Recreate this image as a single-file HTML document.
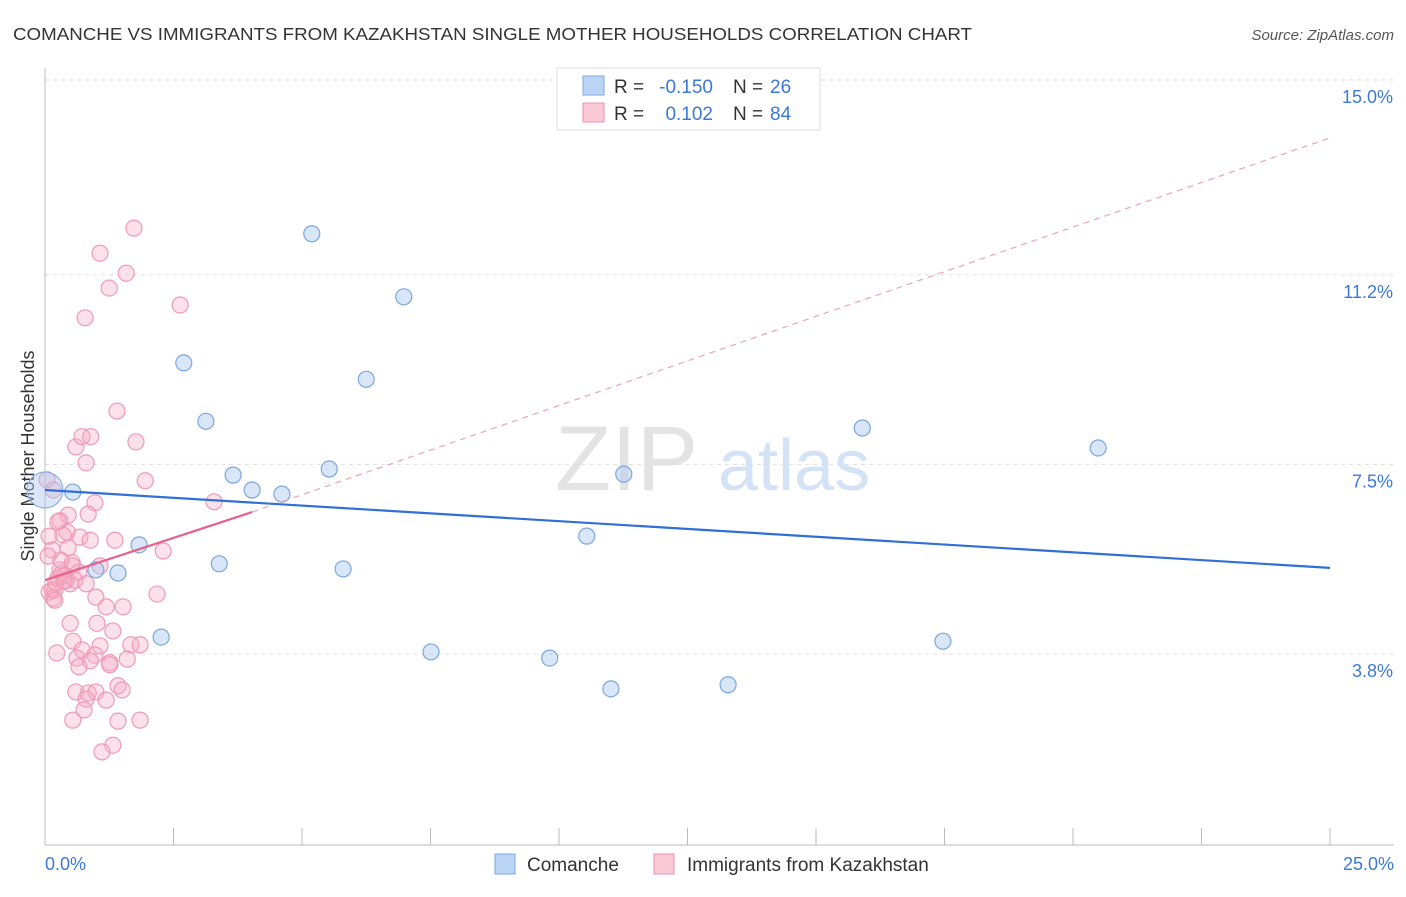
<!DOCTYPE html>
<html><head><meta charset="utf-8"><style>
body{margin:0;background:#fff;font-family:"Liberation Sans",sans-serif;}
svg text{font-family:"Liberation Sans",sans-serif;}
</style></head><body>
<svg id="chart" width="1406" height="892" xmlns="http://www.w3.org/2000/svg">
<text x="13" y="40" font-size="17.5" fill="#333" textLength="959" lengthAdjust="spacingAndGlyphs">COMANCHE VS IMMIGRANTS FROM KAZAKHSTAN SINGLE MOTHER HOUSEHOLDS CORRELATION CHART</text>
<text x="1394" y="40" font-size="15" fill="#555" text-anchor="end" font-style="italic">Source: ZipAtlas.com</text>
<g id="grid"></g>
<g id="axes"></g>
<text x="555" y="490" font-size="92" fill="#ddd" font-family="Liberation Serif" opacity="0.8">ZIP</text>
<text x="718" y="490" font-size="72" fill="#c9dcf2" opacity="0.8">atlas</text>
<text transform="translate(34,456) rotate(-90)" font-size="18" fill="#333" text-anchor="middle">Single Mother Households</text>
<g id="trends"></g>
<g id="points"></g>
<g>
<rect x="557" y="68" width="263" height="62" fill="#fff" stroke="#ddd"/>
<rect x="583" y="76" width="21" height="19" fill="#bcd4f4" stroke="#7aa7e0"/>
<rect x="583" y="103" width="21" height="19" fill="#f9c9d7" stroke="#ee8fae"/>
<text x="614" y="93" font-size="19" fill="#333">R =</text>
<text x="713" y="93" font-size="19" fill="#3b78d8" text-anchor="end">-0.150</text>
<text x="733" y="93" font-size="19" fill="#333">N =</text>
<text x="770" y="93" font-size="19" fill="#3b78d8">26</text>
<text x="614" y="120" font-size="19" fill="#333">R =</text>
<text x="713" y="120" font-size="19" fill="#3b78d8" text-anchor="end">0.102</text>
<text x="733" y="120" font-size="19" fill="#333">N =</text>
<text x="770" y="120" font-size="19" fill="#3b78d8">84</text>
</g>
<g>
<rect x="495" y="854" width="20" height="20" fill="#bcd4f4" stroke="#7aa7e0"/>
<text x="527" y="871" font-size="19" fill="#333">Comanche</text>
<rect x="654" y="854" width="20" height="20" fill="#f9c9d7" stroke="#ee8fae"/>
<text x="687" y="871" font-size="19" fill="#333">Immigrants from Kazakhstan</text>
</g>
</svg>
<script>
const yTicks=[3.8,7.5,11.2,15.0];
const yTickLabels=["3.8%","7.5%","11.2%","15.0%"];
const xEndLabels=["0.0%","25.0%"];
const comancheX=[5.19,6.98,2.70,6.25,3.13,15.90,20.49,5.53,3.66,11.26,4.03,4.61,0.54,1.83,10.54,3.39,0.99,1.42,5.80,2.26,7.51,9.82,17.47,11.01,13.29];
const comancheY=[12.00,10.77,9.48,9.16,8.34,8.21,7.82,7.41,7.29,7.31,7.00,6.92,6.96,5.93,6.10,5.56,5.44,5.38,5.46,4.13,3.84,3.72,4.05,3.12,3.20];
const bigPointX=[0.0];
const bigPointY=[7.00];
const kazX=[1.73,1.07,1.58,1.25,2.63,0.78,1.40,1.77,0.60,0.72,0.89,0.80,1.95,3.29,0.97,0.45,0.84,0.29,0.43,0.68,0.35,1.36,0.14,0.06,2.30,1.07,0.53,0.29,0.66,0.25,0.41,0.49,0.14,0.08,0.19,0.16,2.18,0.99,1.52,1.19,0.49,1.01,1.32,0.54,0.23,1.07,1.67,1.85,0.72,0.97,0.62,1.60,0.88,1.26,0.66,1.26,1.42,0.60,0.84,0.99,1.50,0.80,1.19,0.76,0.54,1.42,1.85,1.32,1.11,0.04,0.16,0.25,0.08,0.21,0.39,0.33,0.53,0.58,0.37,0.80,0.19,0.45,0.31,0.88];
const kazY=[12.11,11.62,11.23,10.94,10.61,10.36,8.54,7.94,7.84,8.04,8.04,7.53,7.18,6.77,6.75,6.51,6.53,6.40,6.18,6.08,6.12,6.02,5.83,5.71,5.81,5.52,5.52,5.44,5.40,5.28,5.24,5.17,5.05,5.01,5.05,4.89,4.97,4.91,4.72,4.72,4.40,4.40,4.25,4.05,3.82,3.96,3.98,3.98,3.88,3.78,3.72,3.70,3.67,3.63,3.55,3.59,3.18,3.06,3.04,3.06,3.10,2.92,2.90,2.71,2.51,2.49,2.51,2.02,1.89,7.20,7.00,6.38,6.10,5.19,5.34,5.38,5.58,5.24,5.22,5.17,4.85,5.87,5.63,6.02];
const blueTrend=[[0,7.00],[25,5.48]];
const pinkSolid=[[0,5.24],[4.03,6.57]];
const pinkDash=[[4.03,6.57],[25,13.87]];

const NS="http://www.w3.org/2000/svg";
const X0=45,X1=1330,Y0=848.75,YS=51.25;
const sx=v=>X0+v*(X1-X0)/25;
const sy=v=>Y0-v*YS;
function mk(tag,attrs,parent){const e=document.createElementNS(NS,tag);for(const k in attrs)e.setAttribute(k,attrs[k]);document.getElementById(parent).appendChild(e);return e;}

yTicks.forEach((t,i)=>{
  const g=mk('line',{x1:45,x2:1394,y1:sy(t),y2:sy(t),stroke:'#ddd','stroke-dasharray':'4,4'},'grid');
  
  
  const l=mk('text',{x:1393,y:sy(t)+23,'font-size':18,fill:'#3b78d8','text-anchor':'end'},'grid');
  l.textContent=yTickLabels[i];
  
  
});
const ax=mk('line',{x1:45,x2:1394,y1:845,y2:845,stroke:'#bbb'},'axes');


const ay=mk('line',{x1:45,x2:45,y1:68,y2:845,stroke:'#bbb'},'axes');


for(let i=0;i<=10;i++){
  const t=mk('line',{x1:sx(i*2.5),x2:sx(i*2.5),y1:828,y2:845,stroke:'#bbb'},'axes');
  
  
}
[[0,'start',45],[25,'end',1394]].forEach((d,i)=>{
  const t=mk('text',{x:d[2],y:870,'font-size':18,fill:'#3b78d8','text-anchor':d[1]},'axes');
  t.textContent=xEndLabels[i];
  
  
});

function line(p,attrs,name){const e=mk('line',Object.assign({x1:sx(p[0][0]),y1:sy(p[0][1]),x2:sx(p[1][0]),y2:sy(p[1][1])},attrs),'trends');}
line(pinkDash,{stroke:'#eaa3bb','stroke-width':1.2,'stroke-dasharray':'6,5'},'kazakhstan-trend-dashed');

kazX.forEach((v,i)=>{
  const c=mk('circle',{cx:sx(v),cy:sy(kazY[i]),r:8,fill:'rgba(245,170,195,0.35)',stroke:'#ee9ab5','stroke-width':1.2},'points');
  
  
});
bigPointX.forEach((v,i)=>{
  const c=mk('circle',{cx:sx(v),cy:sy(bigPointY[i]),r:18,fill:'rgba(169,200,238,0.45)',stroke:'#8db3e6','stroke-width':1.2},'points');
  
  
});
comancheX.forEach((v,i)=>{
  const c=mk('circle',{cx:sx(v),cy:sy(comancheY[i]),r:8,fill:'rgba(169,200,238,0.45)',stroke:'#7aa7e0','stroke-width':1.2},'points');
  
  
});
line(blueTrend,{stroke:'#2f6fd6','stroke-width':2.2},'comanche-trend');
line(pinkSolid,{stroke:'#e8608c','stroke-width':2.2},'kazakhstan-trend');
document.getElementById('chart').appendChild(document.getElementById('trends'));
</script>
</body></html>
